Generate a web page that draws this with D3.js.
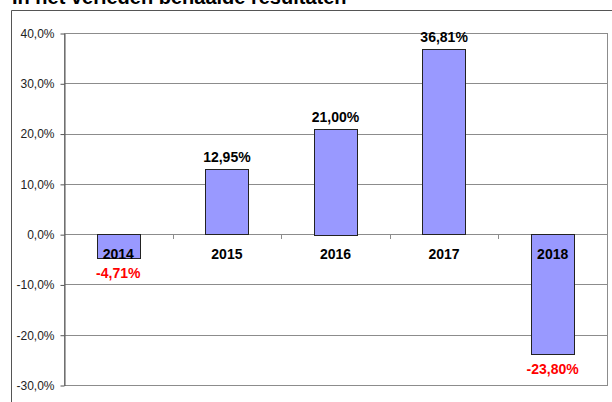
<!DOCTYPE html>
<html><head><meta charset="utf-8">
<script src="https://cdn.jsdelivr.net/npm/d3@7"></script>
<style>body{margin:0;background:#fff}svg{display:block}</style>
</head><body>
<script>
const title = "In het verleden behaalde resultaten";
const categories = ["2014","2015","2016","2017","2018"];
const values = [-4.71, 12.95, 21.00, 36.81, -23.80];
const valueLabels = ["-4,71%","12,95%","21,00%","36,81%","-23,80%"];
const yTicks = [40,30,20,10,0,-10,-20,-30];
const yTickLabels = ["40,0%","30,0%","20,0%","10,0%","0,0%","-10,0%","-20,0%","-30,0%"];

const W=612,H=402;
const svg=d3.select("body").append("svg").attr("width",W).attr("height",H);
const font="Liberation Sans, Arial, sans-serif";

svg.append("text").attr("x",12).attr("y",4).attr("font-family",font).attr("font-weight","bold")
  .attr("font-size",20).attr("fill","#000").text(title);

// outer frame
svg.append("path").attr("d","M11.5,402 V10.5 H620").attr("fill","none").attr("stroke","#555").attr("stroke-width",1);

const L=64,R=607,T=33,B=385;
const x=d3.scaleBand().domain(categories).range([L,R]);
const y=d3.scaleLinear().domain([-30,40]).range([B,T]);

// gridlines
svg.append("g").selectAll("line").data(yTicks).join("line")
  .attr("x1",L).attr("x2",R).attr("y1",d=>Math.round(y(d))+0.5).attr("y2",d=>Math.round(y(d))+0.5)
  .attr("stroke","#8c8c8c").attr("stroke-width",1);
// plot border
svg.append("rect").attr("x",L+0.5).attr("y",T+0.5).attr("width",R-L).attr("height",B-T)
  .attr("fill","none").attr("stroke","#8c8c8c");

// y axis
const ya=svg.append("g").attr("transform",`translate(${L+0.5},0.5)`)
  .call(d3.axisLeft(y).tickValues(yTicks).tickSize(4).tickSizeOuter(0).tickPadding(6)
    .tickFormat((d,i)=>yTickLabels[i]));
ya.select(".domain").attr("stroke","#555");
ya.selectAll(".tick line").attr("stroke","#555");
ya.selectAll("text").attr("font-family",font).attr("font-size",12).attr("fill","#222");

// category tick marks on zero line
const bounds=categories.slice(1).map(c=>x(c));
svg.append("g").selectAll("line").data(bounds).join("line")
  .attr("x1",d=>Math.round(d)+0.5).attr("x2",d=>Math.round(d)+0.5)
  .attr("y1",Math.round(y(0))).attr("y2",Math.round(y(0))+5).attr("stroke","#8c8c8c");

// bars
const bw=x.bandwidth()*0.4;
svg.append("g").selectAll("rect").data(values).join("rect")
  .attr("x",(d,i)=>Math.round(x(categories[i])+x.bandwidth()/2-bw/2)+0.5)
  .attr("y",d=>Math.round(y(Math.max(0,d)))+0.5)
  .attr("width",Math.round(bw))
  .attr("height",d=>Math.round(Math.abs(y(d)-y(0))))
  .attr("fill","#9999ff").attr("stroke","#222").attr("stroke-width",1);

// category labels
svg.append("g").selectAll("text").data(categories).join("text")
  .attr("x",d=>x(d)+x.bandwidth()/2).attr("y",y(0)+25)
  .attr("text-anchor","middle").attr("font-family",font).attr("font-weight","bold")
  .attr("font-size",14).attr("fill","#000").text(d=>d);

// value labels
svg.append("g").selectAll("text").data(values).join("text")
  .attr("x",(d,i)=>x(categories[i])+x.bandwidth()/2)
  .attr("y",d=>d>=0?y(d)-7:y(d)+20)
  .attr("text-anchor","middle").attr("font-family",font).attr("font-weight","bold")
  .attr("font-size",14).attr("fill",d=>d>=0?"#000":"#ff0000").text((d,i)=>valueLabels[i]);
</script>
</body></html>
